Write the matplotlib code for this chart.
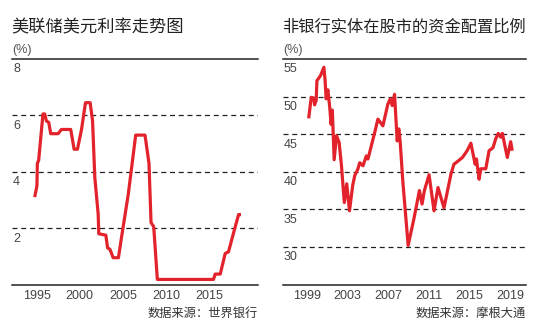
import matplotlib
matplotlib.use("Agg")
import matplotlib.pyplot as plt
import matplotlib.transforms as mtransforms

plt.rcParams['font.family'] = ['Noto Sans CJK SC', 'DejaVu Sans']

# ---------------- data ----------------
left_title = "美联储美元利率走势图"
left_source = "数据来源：世界银行"
fed_years = [1994.77, 1995.03, 1995.08, 1995.23, 1995.73, 1995.93, 1996.13, 1996.40,
             1996.63, 1997.48, 1997.87, 1998.95, 1999.34, 1999.73, 2000.20, 2000.66,
             2001.20, 2001.48, 2001.74, 2002.13, 2002.20, 2003.02, 2003.22, 2003.49,
             2003.87, 2004.48, 2004.85, 2005.62, 2006.48, 2007.56, 2008.02, 2008.26,
             2008.57, 2008.99, 2015.50, 2015.70, 2016.28, 2016.86, 2017.24, 2018.02,
             2018.41, 2018.69]
fed_rate = [3.1, 3.5, 4.3, 4.4, 6.05, 6.05, 5.8, 5.75,
            5.35, 5.35, 5.5, 5.5, 4.8, 4.8, 5.5, 6.45,
            6.45, 5.8, 3.8, 2.5, 1.8, 1.75, 1.3, 1.25,
            0.95, 0.95, 1.7, 3.2, 5.3, 5.3, 4.3, 2.2,
            2.05, 0.18, 0.18, 0.37, 0.37, 1.1, 1.16, 2.05,
            2.48, 2.48]
left_yticks = [2, 4, 6, 8]
left_xticks = [1995, 2000, 2005, 2010, 2015]

right_title = "非银行实体在股市的资金配置比例"
right_source = "数据来源：摩根大通"
eq_years = [1999.17, 1999.42, 1999.66, 1999.75, 1999.91, 1999.98, 2000.34, 2000.67,
            2000.79, 2000.89, 2001.06, 2001.25, 2001.38, 2001.50, 2001.68, 2001.91,
            2002.17, 2002.40, 2002.68, 2002.92, 2003.19, 2003.51, 2003.71, 2004.00,
            2004.20, 2004.52, 2004.85, 2005.01, 2005.37, 2005.67, 2005.99, 2006.48,
            2006.97, 2007.21, 2007.40, 2007.63, 2007.89, 2008.05, 2008.19, 2008.44,
            2008.97, 2009.56, 2010.08, 2010.34, 2010.57, 2011.03, 2011.52, 2011.91,
            2012.50, 2012.99, 2013.19, 2013.48, 2013.68, 2014.32, 2014.78, 2015.15,
            2015.57, 2015.70, 2015.96, 2016.13, 2016.62, 2016.94, 2017.33, 2017.60,
            2017.85, 2018.09, 2018.25, 2018.74, 2019.07, 2019.23]
eq_share = [47.1, 49.9, 49.8, 48.9, 49.5, 52.1, 52.8, 53.9,
            52.1, 49.7, 50.9, 48.5, 46.3, 48.2, 41.6, 44.8,
            43.9, 40.8, 35.9, 38.4, 34.8, 38.2, 39.5, 40.3,
            41.2, 40.8, 42.1, 41.7, 43.6, 45.2, 47.0, 46.1,
            49.0, 49.7, 48.8, 50.3, 44.1, 45.7, 43.9, 38.8,
            30.2, 33.9, 37.5, 35.7, 37.5, 39.6, 34.8, 37.9,
            35.2, 38.4, 39.7, 41.0, 41.2, 41.9, 42.8, 43.8,
            41.0, 41.7, 39.0, 40.4, 40.4, 42.8, 43.2, 44.4,
            45.1, 44.6, 45.1, 41.9, 44.0, 42.8]
right_yticks = [30, 35, 40, 45, 50, 55]
right_xticks = [1999, 2003, 2007, 2011, 2015, 2019]

# ---------------- style ----------------
RED = "#e2232b"
TXT = "#444444"
W, H = 536, 323
fig = plt.figure(figsize=(W / 100, H / 100), dpi=100)


def panel(rect, xlim, ylim, years, vals, yticks, xticks, title, source, title_size,
          title_x):
    ax = fig.add_axes(rect)
    ax.set_xlim(*xlim)
    ax.set_ylim(*ylim)
    for s in ax.spines.values():
        s.set_visible(False)
    ax.set_xticks([])
    ax.set_yticks([])
    # top and bottom solid rules
    ax.axhline(ylim[1], color="#222222", lw=1.1, clip_on=False, zorder=3)
    ax.axhline(ylim[0], color="#222222", lw=1.1, clip_on=False, zorder=3)
    for t in yticks:
        if t != ylim[1]:
            ax.axhline(t, color="#222222", lw=0.9, ls=(0, (4, 3)), zorder=1)
        off = mtransforms.offset_copy(ax.get_yaxis_transform(), fig=fig,
                                      x=1, y=-10.5, units='dots')
        ax.text(0, t, str(t), transform=off, ha='left', va='center',
                fontsize=9, color=TXT, family=['Liberation Sans', 'DejaVu Sans'])
    offx = mtransforms.offset_copy(ax.get_xaxis_transform(), fig=fig,
                                   x=0, y=-11.5, units='dots')
    for t in xticks:
        ax.text(t, 0, str(t), transform=offx, ha='center', va='center',
                fontsize=9, color=TXT, family=['Liberation Sans', 'DejaVu Sans'])
    ax.plot(years, vals, color=RED, lw=2.3, solid_joinstyle='round',
            solid_capstyle='butt', zorder=2)
    # title, unit, source in figure pixels
    x0 = rect[0]
    fig.text(title_x, 1 - 27 / H, title, ha='left', va='center',
             fontsize=title_size, color="#222222", weight='medium')
    fig.text(x0, 1 - 50 / H, "(%)", ha='left', va='center', fontsize=9,
             color="#555555", family=['Liberation Sans', 'DejaVu Sans'])
    fig.text(rect[0] + rect[2], 1 - 313 / H, source, ha='right', va='center',
             fontsize=8.8, color="#333333")
    return ax


top_px, bot_px = 59, 284.5
# left panel
lx0, lx1 = 12, 258
panel([lx0 / W, 1 - bot_px / H, (lx1 - lx0) / W, (bot_px - top_px) / H],
      (1992.14, 2020.66), (0, 8), fed_years, fed_rate, left_yticks, left_xticks,
      left_title, left_source, 12.4, 11 / W)
# right panel
rx0, rx1 = 283, 526
panel([rx0 / W, 1 - bot_px / H, (rx1 - rx0) / W, (bot_px - top_px) / H],
      (1996.64, 2020.58), (25, 55), eq_years, eq_share, right_yticks, right_xticks,
      right_title, right_source, 11.7, 282 / W)

fig.savefig("out.png", dpi=100)
